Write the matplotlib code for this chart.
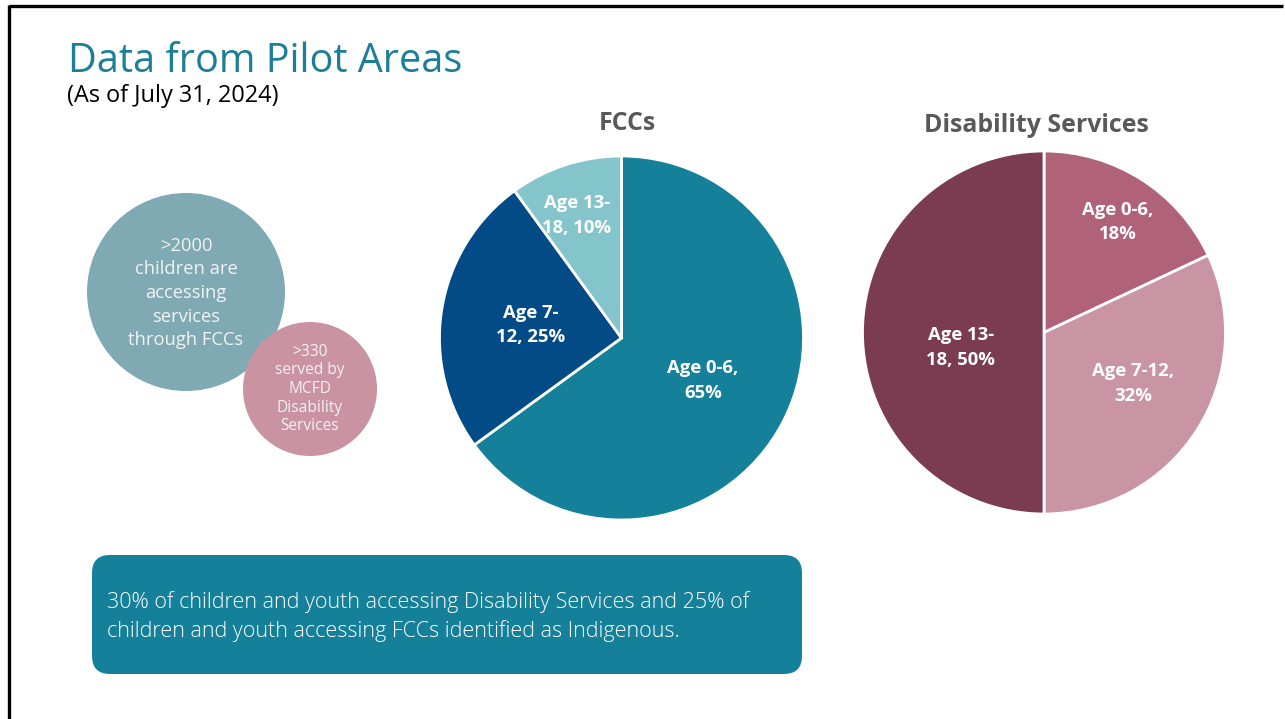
import matplotlib
matplotlib.use("Agg")
import matplotlib.pyplot as plt
from matplotlib.patches import Circle, FancyBboxPatch
from matplotlib.lines import Line2D

W, H = 1285, 719

# ---- data ----
fcc_labels = ["Age 0-6,\n65%", "Age 7-\n12, 25%", "Age 13-\n18, 10%"]
fcc_values = [65, 25, 10]
fcc_colors = ["#15809A", "#024B87", "#84C5CB"]

dis_labels = ["Age 0-6,\n18%", "Age 7-12,\n32%", "Age 13-\n18, 50%"]
dis_values = [18, 32, 50]
dis_colors = ["#B06278", "#C994A3", "#7B3C51"]

title = "Data from Pilot Areas"
subtitle = "(As of July 31, 2024)"
bubble_big_text = ">2000\nchildren are\naccessing\nservices\nthrough FCCs"
bubble_small_text = ">330\nserved by\nMCFD\nDisability\nServices"
note_text = ("30% of children and youth accessing Disability Services and 25% of\n"
             "children and youth accessing FCCs identified as Indigenous.")

# ---- layout (pixel coordinates, y measured from top) ----
def Y(y):
    return H - y

fig = plt.figure(figsize=(W / 100, H / 100), dpi=100)
ax = fig.add_axes([0, 0, 1, 1])

FONT = ["Open Sans", "DejaVu Sans"]

def draw_pie(values, colors, labels, cx, cy, r, label_pos, head, head_pos):
    ax.pie(values, colors=colors, startangle=90, counterclock=False,
           center=(cx, Y(cy)), radius=r,
           wedgeprops=dict(edgecolor="white", linewidth=2))
    for lab, (lx, ly) in zip(labels, label_pos):
        ax.text(lx, Y(ly), lab, ha="center", va="center", color="white",
                fontsize=13.3, fontweight="bold", family=FONT, linespacing=1.47)
    ax.text(head_pos[0], Y(head_pos[1]), head, ha="center", va="center",
            color="#595959", fontsize=17.9, fontweight="bold", family=FONT)

draw_pie(fcc_values, fcc_colors, fcc_labels, 621.5, 338, 182,
         [(703, 380.5), (531, 325), (577, 215.5)], "FCCs", (627, 124))
draw_pie(dis_values, dis_colors, dis_labels, 1044, 332.5, 181.5,
         [(1118, 222), (1133, 383.5), (961, 347.5)], "Disability Services", (1036, 125))

# bubbles
ax.add_patch(Circle((186, Y(292)), 99, facecolor="#7FAAB4", edgecolor="none", zorder=3))
ax.add_patch(Circle((310, Y(389)), 67, facecolor="#C993A2", edgecolor="none", zorder=4))
ax.text(186, Y(293), bubble_big_text, ha="center", va="center", color="#F2F2F2",
        fontsize=13.2, family=FONT, linespacing=1.4, zorder=5)
ax.text(310, Y(389), bubble_small_text, ha="center", va="center", color="#F2F2F2",
        fontsize=11.2, family=FONT, linespacing=1.22, zorder=5)

# note box
ax.add_patch(FancyBboxPatch((92, Y(674)), 710, 119,
                            boxstyle="round,pad=0,rounding_size=18",
                            facecolor="#15809A", edgecolor="none", zorder=3))
ax.text(107, Y(616.5), note_text, ha="left", va="center", color="white",
        fontsize=15.5, fontweight="light", family=FONT, linespacing=1.45, zorder=5)

# titles
ax.text(68, Y(72), title, ha="left", va="baseline", color="#1B7F99",
        fontsize=28.5, family=FONT)
ax.text(67, Y(102), subtitle, ha="left", va="baseline", color="black",
        fontsize=16.9, family=FONT)

# frame lines
ax.add_line(Line2D([9, 1283], [Y(6), Y(6)], color="black", linewidth=2.4, solid_capstyle="butt"))
ax.add_line(Line2D([9, 9], [Y(5), 0], color="black", linewidth=2.4, solid_capstyle="butt"))

ax.set_xlim(0, W)
ax.set_ylim(0, H)
ax.set_aspect("auto")
ax.set_axis_off()

fig.savefig("out.png", dpi=100)
